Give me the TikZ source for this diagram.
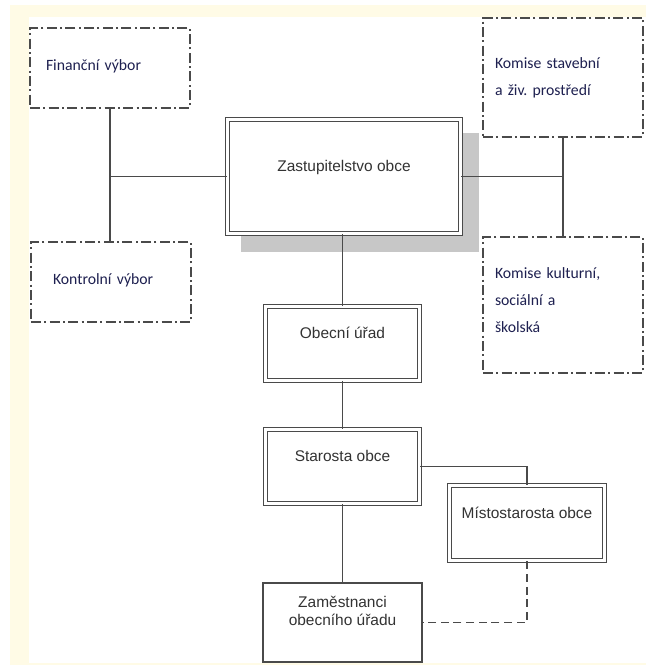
\documentclass[tikz,border=0pt]{standalone}
\usepackage{fontspec}
\setmainfont{Liberation Sans}
\newfontfamily\calibri{Carlito}
\usepackage{tikz}
\usetikzlibrary{shadows}
\definecolor{cream}{HTML}{FFFBE6}
\definecolor{framegray}{HTML}{4A4A4A}
\definecolor{textgray}{HTML}{333333}
\definecolor{textnavy}{HTML}{1E2050}
\frenchspacing

\begin{document}
\begin{tikzpicture}[x=0.75pt,y=-0.75pt,
					line width=1pt,draw=framegray,
					doublebox/.style={draw=framegray,line width=1.4pt,double=white,double distance=1.6pt,fill=white,
						text=textgray,font=\fontsize{11.6}{14.2}\selectfont,inner sep=0pt,
						text height=8pt,text depth=15pt,align=center},
					singlebox/.style={draw=framegray,line width=1pt,
						text=textgray,font=\fontsize{11.6}{14.2}\selectfont,inner sep=0pt,align=center},
					dashbox/.style={draw=framegray,line width=1pt,dash pattern=on 7.5pt off 2.5pt on 1.5pt off 2.5pt,
						text=textnavy,font=\calibri\fontsize{11.8}{20.2}\selectfont,align=left,
						minimum width=120pt,inner sep=0pt},
					link/.style={draw=framegray,line width=1pt},
					dashlink/.style={draw=framegray,line width=1pt,dash pattern=on 6pt off 3.5pt}]
	\useasboundingbox (0,0) rectangle (646,665);
	\fill[cream] (10,5) rectangle (646,665);
	\fill[white] (29,17) rectangle (646,663);

	\node[dashbox,minimum height=60pt,text width=96pt] (fin) at (110,68) {Finanční výbor\rule[-4pt]{0pt}{0pt}};
	\node[dashbox,minimum height=60pt,text width=87pt] (kon) at (111,282) {Kontrolní výbor\rule[-4pt]{0pt}{0pt}};
	\node[doublebox,minimum width=174.75pt,minimum height=85.5pt,
		drop shadow={shadow xshift=12pt,shadow yshift=-12pt,opacity=1,fill=black!22,draw=black!22,line width=3.8pt}] (zas) at (344,176.5) {Zastupitelstvo obce};
	\node[dashbox,minimum height=89.25pt,text width=102pt] (ksz) at (563,77.5) {Komise stavební\\a živ. prostředí};
	\node[dashbox,minimum height=102pt,text width=102pt] (kku) at (563,305) {Komise kulturní,\\sociální a\\školská\rule[-7pt]{0pt}{0pt}};

	\node[doublebox,minimum width=115.5pt,minimum height=55.5pt] (obu) at (342.5,343.5) {Obecní úřad};
	\node[doublebox,minimum width=115.5pt,minimum height=55.5pt] (sta) at (342.5,466.5) {Starosta obce};
	\node[doublebox,minimum width=116.25pt,minimum height=56.25pt] (mis) at (527,523) {Místostarosta obce};
	\node[singlebox,minimum width=119.25pt,minimum height=59.25pt] (zam) at (342.5,622.5) {Zaměstnanci\\obecního úřadu\rule[-17.5pt]{0pt}{0pt}};

	\draw[link] (fin.south) -- (fin.south |- kon.north);
	\draw[link] (zas.west) -- (zas.west -| fin.south);
	\draw[link] (ksz.south) -- (kku.north);
	\draw[link] (zas.east) -- (zas.east -| ksz.south);
	\draw[link] (obu.north) -- (obu.north |- zas.south);
	\draw[link] (obu.south) -- (sta.north);
	\draw[link] (sta.south) -- (zam.north);
	\draw[link] (sta.east) -| (mis.north);
	\draw[dashlink] (mis.south) |- (zam.east);
\end{tikzpicture}
\end{document}
